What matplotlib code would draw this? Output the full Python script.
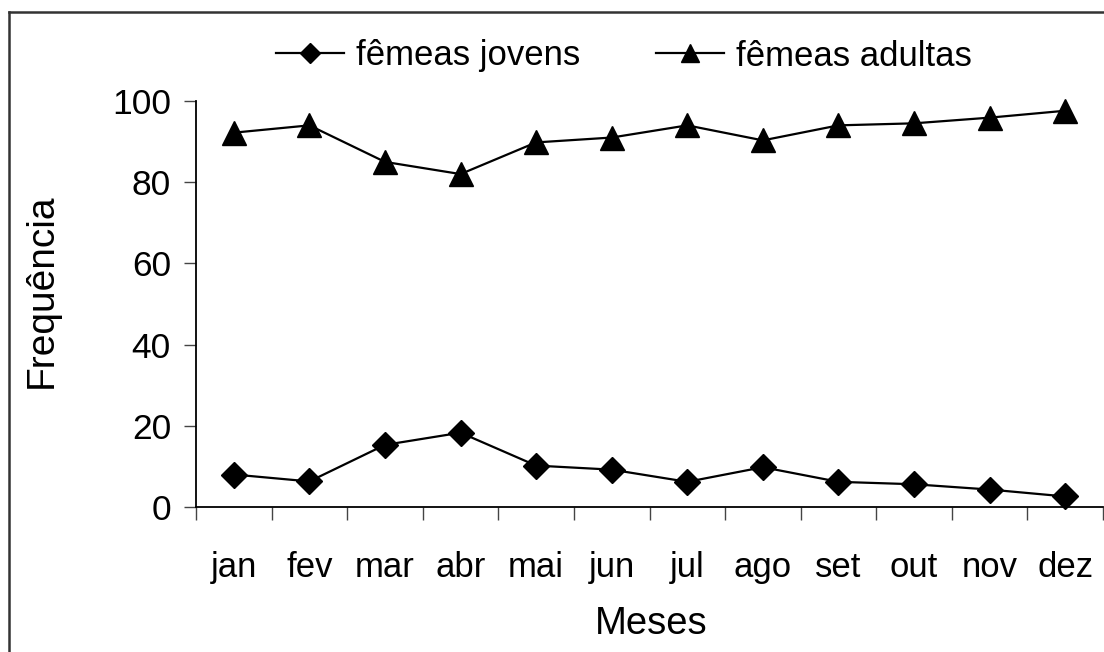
import matplotlib
matplotlib.use("Agg")
import matplotlib.pyplot as plt
from matplotlib.lines import Line2D

plt.rcParams['font.family'] = ['Liberation Sans', 'DejaVu Sans']

meses = ["jan", "fev", "mar", "abr", "mai", "jun", "jul", "ago", "set", "out", "nov", "dez"]
jovens = [8, 6.3, 15.3, 18.3, 10.2, 9.2, 6.2, 9.8, 6.2, 5.6, 4.3, 2.6]
adultas = [92.2, 94.0, 85.0, 82.0, 89.8, 91.0, 94.0, 90.3, 94.0, 94.5, 95.9, 97.6]
y_ticks = [0, 20, 40, 60, 80, 100]

fig = plt.figure(figsize=(11.04, 6.52), dpi=100)
ax = fig.add_axes([196 / 1104, 1 - 507 / 652, 907 / 1104, 406 / 652])

x = list(range(len(meses)))
ax.plot(x, jovens, color='black', lw=1.6, marker='D', ms=13, clip_on=False,
        label="fêmeas jovens")
ax.plot(x, adultas, color='black', lw=1.6, marker='^', ms=17.5, clip_on=False,
        label="fêmeas adultas")

ax.set_xlim(-0.5, len(meses) - 0.5)
ax.set_ylim(0, 100)
ax.set_yticks(y_ticks)
ax.set_xticks(x)
ax.set_xticklabels(meses)
ax.set_xticks([i - 0.5 for i in range(len(meses) + 1)], minor=True)

ax.tick_params(axis='x', which='major', length=0, pad=32, labelsize=25)
ax.tick_params(axis='x', which='minor', length=9, width=1, direction='out', color='#444444')
ax.tick_params(axis='y', length=9, width=1, direction='out', pad=9, labelsize=25.5, color='#444444')

for s in ['top', 'right']:
    ax.spines[s].set_visible(False)
for s in ['left', 'bottom']:
    ax.spines[s].set_linewidth(1.3)

fig.text(42 / 1104, 1 - 291 / 652, "Frequência", rotation=90, ha='center', va='center', fontsize=28)
fig.text(651 / 1104, 1 - 624 / 652, "Meses", ha='center', va='center', fontsize=27.5)

ax.legend(loc='center', bbox_to_anchor=(624 / 1104, 1 - 56 / 652), bbox_transform=fig.transFigure,
          ncol=2, frameon=False, fontsize=25, handlelength=1.95, handletextpad=0.35,
          columnspacing=2.2, borderpad=0, markerscale=0.75)

# moldura (só esquerda e topo visíveis)
fig.add_artist(Line2D([9 / 1104, 9 / 1104], [0, 1 - 12 / 652], transform=fig.transFigure,
                      color='#333333', lw=1.8))
fig.add_artist(Line2D([9 / 1104, 1], [1 - 12 / 652, 1 - 12 / 652], transform=fig.transFigure,
                      color='#333333', lw=1.8))

fig.savefig("out.png", dpi=100)
